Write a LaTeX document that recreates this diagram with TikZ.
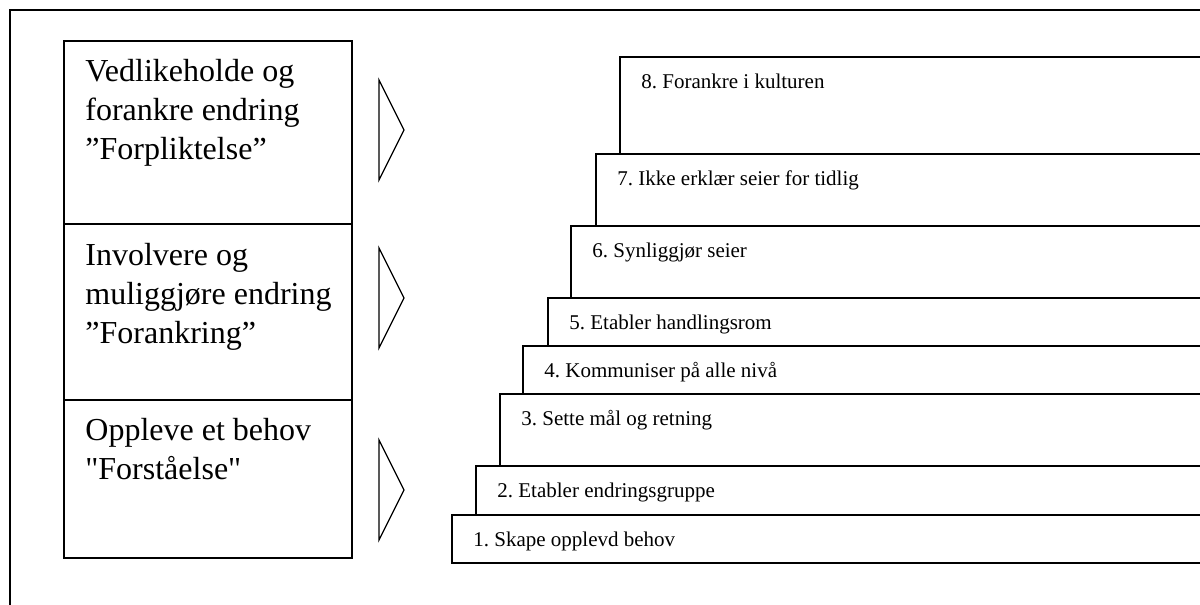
\documentclass[tikz,border=0pt]{standalone}
\usepackage{fontspec}
\setmainfont{Liberation Serif}[Ligatures=TeXOff]
\frenchspacing
\begin{document}
\begin{tikzpicture}[x=0.5pt,y=-0.5pt,
  frame/.style={line width=0.75pt},
  phase/.style={line width=0.65pt},
  stair/.style={line width=0.75pt},
  arrowtri/.style={line width=0.6pt},
  phasetext/.style={anchor=north west,inner sep=0pt,align=left,font=\fontsize{16}{19.5}\selectfont},
  steptext/.style={anchor=base west,inner sep=0pt,font=\fontsize{10.5}{12}\selectfont}]
\useasboundingbox (0,0) rectangle (1200,605);
% outer frame (cropped at right and bottom)
\draw[frame] (10,605) -- (10,10) -- (1200,10);
% phase boxes
\draw[phase] (64,41) rectangle (352,224);
\draw[phase] (64,224) rectangle (352,400);
\draw[phase] (64,400) rectangle (352,558);
\node[phasetext] (p3) at (85,59) {Vedlikeholde og\\forankre endring\\”Forpliktelse”};
\node[phasetext] (p2) at (85,243) {Involvere og\\muliggjøre endring\\”Forankring”};
\node[phasetext] (p1) at (85,418) {Oppleve et behov\\"Forståelse"};
% arrow triangles
\draw[arrowtri] (379,80) -- (404,130) -- (379,180) -- cycle;
\draw[arrowtri] (379,248) -- (404,298) -- (379,348) -- cycle;
\draw[arrowtri] (379,440) -- (404,490) -- (379,540) -- cycle;
% stairs
\foreach \l/\t/\b in {620/57/154, 596/154/226, 571/226/298, 548/298/346, 523/346/394, 500/394/466, 476/466/515, 452/515/563}{
  \draw[stair] (1202,\t) -- (\l,\t) -- (\l,\b) -- (1202,\b);
}
\node[steptext] (s8) at (641,88) {8. Forankre i kulturen};
\node[steptext] (s7) at (617,185) {7. Ikke erklær seier for tidlig};
\node[steptext] (s6) at (592,257) {6. Synliggjør seier};
\node[steptext] (s5) at (569,329) {5. Etabler handlingsrom};
\node[steptext] (s4) at (544,377) {4. Kommuniser på alle nivå};
\node[steptext] (s3) at (521,425) {3. Sette mål og retning};
\node[steptext] (s2) at (497,497) {2. Etabler endringsgruppe};
\node[steptext] (s1) at (473,546) {1. Skape opplevd behov};
\end{tikzpicture}
\end{document}
